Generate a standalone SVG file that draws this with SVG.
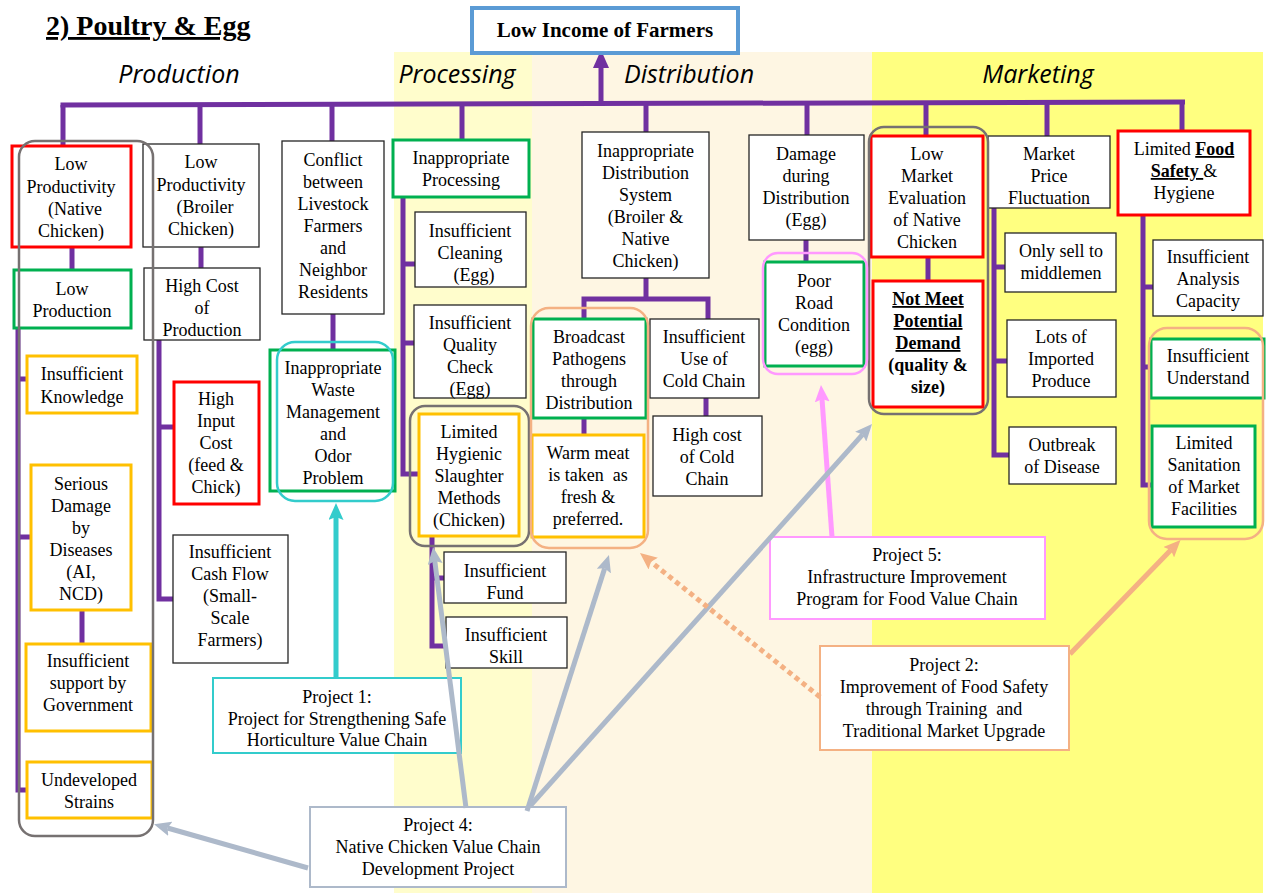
<svg xmlns="http://www.w3.org/2000/svg" width="1266" height="893" viewBox="0 0 1266 893">
  <defs>
    <style>
      .t{font-family:"Liberation Serif",serif;font-size:18px;fill:#000;text-anchor:middle}
      .bd{font-weight:bold}
      .ul{text-decoration:underline}
      .sec{font-family:"Open Sans",sans-serif;font-style:italic;font-size:25px;fill:#000;text-anchor:middle}
      .box{fill:#fff;stroke:#262626;stroke-width:1.3}
      .red{fill:#fff;stroke:#FF0000;stroke-width:3}
      .grn{fill:#fff;stroke:#00B050;stroke-width:3}
      .org{fill:#fff;stroke:#FFC000;stroke-width:3}
      .grp{fill:none;stroke:#767171;stroke-width:2.5}
      .tree{fill:none;stroke:#7030A0;stroke-width:5;stroke-linejoin:miter}
      .arw{fill:none;stroke-width:5}
    </style>
    <marker id="ah-purple" markerUnits="userSpaceOnUse" markerWidth="18" markerHeight="16" refX="2" refY="8" orient="auto">
      <path d="M0,0 L18,8 L0,16 z" fill="#7030A0"/>
    </marker>
    <marker id="ah-slate" markerUnits="userSpaceOnUse" markerWidth="17" markerHeight="15" refX="3" refY="7.5" orient="auto">
      <path d="M0,0 L17,7.5 L0,15 L3,7.5 z" fill="#ADB9CA"/>
    </marker>
    <marker id="ah-cyan" markerUnits="userSpaceOnUse" markerWidth="17" markerHeight="15" refX="3" refY="7.5" orient="auto">
      <path d="M0,0 L17,7.5 L0,15 L3,7.5 z" fill="#33CCCC"/>
    </marker>
    <marker id="ah-pink" markerUnits="userSpaceOnUse" markerWidth="17" markerHeight="15" refX="3" refY="7.5" orient="auto">
      <path d="M0,0 L17,7.5 L0,15 L3,7.5 z" fill="#FF99FF"/>
    </marker>
    <marker id="ah-peach" markerUnits="userSpaceOnUse" markerWidth="17" markerHeight="15" refX="3" refY="7.5" orient="auto">
      <path d="M0,0 L17,7.5 L0,15 L3,7.5 z" fill="#F4B183"/>
    </marker>
  </defs>

  <!-- stage bands -->
  <rect x="0" y="0" width="1266" height="893" fill="#fff"/>
  <rect x="394" y="52" width="138" height="841" fill="#FFFDCC"/>
  <rect x="532" y="52" width="340" height="841" fill="#FEF6E3"/>
  <rect x="872" y="52" width="391" height="841" fill="#FFFF80"/>

  <!-- headings -->
  <text x="46" y="35" font-family="Liberation Serif, serif" font-size="28" font-weight="bold" text-decoration="underline">2) Poultry &amp; Egg</text>
  <text class="sec" x="179" y="83">Production</text>
  <text class="sec" x="457" y="83">Processing</text>
  <text class="sec" x="689" y="83">Distribution</text>
  <text class="sec" x="1038" y="83">Marketing</text>

  <!-- problem tree links -->
  <g id="tree-links">
    <path class="tree" d="M60.5,105 L1185,102"/>
    <path class="tree" d="M601,103 V66" marker-end="url(#ah-purple)"/>
    <path class="tree" d="M63,105 V147 M200,104 V144 M332,104 V141 M462,104 V140 M646,103 V132 M807,103 V135 M926,103 V135 M1047,102 V136 M1182,102 V131"/>
    <!-- production -->
    <path class="tree" d="M72,247 V270 M18,329 V790 H27 M18,379 H27 M18,537 H31 M82,610 V644"/>
    <path class="tree" d="M201,247 V268 M159,340 V599 H173 M159,427 H174"/>
    <path class="tree" d="M333,314 V350"/>
    <!-- processing -->
    <path class="tree" d="M403,197 V474 H419 M403,264 H415 M403,343 H414"/>
    <path class="tree" d="M432,536 V646 H446 M432,578 H444"/>
    <!-- distribution -->
    <path class="tree" d="M646,278 V299 M584,319 V299 H708 V320 M584,418 V435 M706,398 V416 M806,240 V262"/>
    <!-- marketing -->
    <path class="tree" d="M928,257 V281 M994,208 V455 H1009 M994,267 H1005 M994,361 H1007"/>
    <path class="tree" d="M1143,215 V485 H1152 M1143,287 H1153 M1143,367 H1151"/>
  </g>

  <!-- top problem -->
  <g id="n-income">
    <rect x="472" y="8" width="266" height="45" fill="#fff" stroke="#5B9BD5" stroke-width="4"/>
    <text class="t bd" x="605" y="37" style="font-size:21px">Low Income of Farmers</text>
  </g>

  <!-- production -->
  <g id="n-native">
    <rect class="red" x="12" y="146" width="119" height="101"/>
    <text class="t"><tspan x="71" y="170">Low</tspan><tspan x="71" y="192.5">Productivity</tspan><tspan x="75" y="215">(Native</tspan><tspan x="71" y="237">Chicken)</tspan></text>
  </g>
  <g id="n-lowprod">
    <rect class="grn" x="14" y="270" width="117" height="58"/>
    <text class="t"><tspan x="72" y="295">Low</tspan><tspan x="72" y="317">Production</tspan></text>
  </g>
  <g id="n-knowledge">
    <rect class="org" x="27" y="356" width="110" height="57"/>
    <text class="t"><tspan x="82" y="380">Insufficient</tspan><tspan x="82" y="403">Knowledge</tspan></text>
  </g>
  <g id="n-disease">
    <rect class="org" x="31" y="465" width="100" height="145"/>
    <text class="t"><tspan x="81" y="490">Serious</tspan><tspan x="81" y="512">Damage</tspan><tspan x="81" y="534">by</tspan><tspan x="81" y="556">Diseases</tspan><tspan x="81" y="578">(AI,</tspan><tspan x="81" y="600">NCD)</tspan></text>
  </g>
  <g id="n-govt">
    <rect class="org" x="26" y="644" width="125" height="87"/>
    <text class="t"><tspan x="88" y="667">Insufficient</tspan><tspan x="88" y="689">support by</tspan><tspan x="88" y="711">Government</tspan></text>
  </g>
  <g id="n-strains">
    <rect class="org" x="27" y="762" width="125" height="56"/>
    <text class="t"><tspan x="89" y="786">Undeveloped</tspan><tspan x="89" y="808">Strains</tspan></text>
  </g>
  <g id="n-broiler">
    <rect class="box" x="143" y="144" width="116" height="103"/>
    <text class="t"><tspan x="201" y="168">Low</tspan><tspan x="201" y="190.5">Productivity</tspan><tspan x="205" y="213">(Broiler</tspan><tspan x="201" y="235">Chicken)</tspan></text>
  </g>
  <g id="n-highcost">
    <rect class="box" x="144" y="268" width="116" height="72"/>
    <text class="t"><tspan x="202" y="292">High Cost</tspan><tspan x="202" y="314">of</tspan><tspan x="202" y="336">Production</tspan></text>
  </g>
  <g id="n-input">
    <rect class="red" x="174" y="382" width="85" height="122"/>
    <text class="t"><tspan x="216" y="405">High</tspan><tspan x="216" y="427">Input</tspan><tspan x="216" y="449">Cost</tspan><tspan x="216" y="471">(feed &amp;</tspan><tspan x="216" y="493">Chick)</tspan></text>
  </g>
  <g id="n-cash">
    <rect class="box" x="173" y="535" width="115" height="128"/>
    <text class="t"><tspan x="230" y="558">Insufficient</tspan><tspan x="230" y="580">Cash Flow</tspan><tspan x="230" y="602">(Small-</tspan><tspan x="230" y="624">Scale</tspan><tspan x="230" y="646">Farmers)</tspan></text>
  </g>
  <g id="n-conflict">
    <rect class="box" x="282" y="141" width="102" height="173"/>
    <text class="t"><tspan x="333" y="166">Conflict</tspan><tspan x="333" y="188">between</tspan><tspan x="333" y="210">Livestock</tspan><tspan x="333" y="232">Farmers</tspan><tspan x="333" y="254">and</tspan><tspan x="333" y="276">Neighbor</tspan><tspan x="333" y="298">Residents</tspan></text>
  </g>
  <g id="n-waste">
    <rect class="grn" x="270" y="350" width="125" height="141"/>
    <text class="t"><tspan x="333" y="374">Inappropriate</tspan><tspan x="333" y="396">Waste</tspan><tspan x="333" y="418">Management</tspan><tspan x="333" y="440">and</tspan><tspan x="333" y="462">Odor</tspan><tspan x="333" y="484">Problem</tspan></text>
  </g>

  <!-- processing -->
  <g id="n-process">
    <rect class="grn" x="393" y="140" width="136" height="57"/>
    <text class="t"><tspan x="461" y="164">Inappropriate</tspan><tspan x="461" y="186">Processing</tspan></text>
  </g>
  <g id="n-cleaning">
    <rect class="box" x="415" y="212" width="111" height="75"/>
    <text class="t"><tspan x="470" y="237">Insufficient</tspan><tspan x="470" y="259">Cleaning</tspan><tspan x="474" y="281">(Egg)</tspan></text>
  </g>
  <g id="n-quality">
    <rect class="box" x="414" y="305" width="112" height="93"/>
    <text class="t"><tspan x="470" y="329">Insufficient</tspan><tspan x="470" y="351">Quality</tspan><tspan x="470" y="373">Check</tspan><tspan x="470" y="395">(Egg)</tspan></text>
  </g>
  <g id="n-slaughter">
    <rect class="org" x="419" y="414" width="100" height="122"/>
    <text class="t"><tspan x="469" y="438">Limited</tspan><tspan x="469" y="460">Hygienic</tspan><tspan x="469" y="482">Slaughter</tspan><tspan x="469" y="504">Methods</tspan><tspan x="469" y="526">(Chicken)</tspan></text>
  </g>
  <g id="n-fund">
    <rect class="box" x="444" y="552" width="122" height="51"/>
    <text class="t"><tspan x="505" y="577">Insufficient</tspan><tspan x="505" y="599">Fund</tspan></text>
  </g>
  <g id="n-skill">
    <rect class="box" x="446" y="617" width="121" height="51"/>
    <text class="t"><tspan x="506" y="641">Insufficient</tspan><tspan x="506" y="663">Skill</tspan></text>
  </g>

  <!-- distribution -->
  <g id="n-distsys">
    <rect class="box" x="582" y="132" width="127" height="146"/>
    <text class="t"><tspan x="645.5" y="157">Inappropriate</tspan><tspan x="645.5" y="179">Distribution</tspan><tspan x="645.5" y="201">System</tspan><tspan x="645.5" y="223">(Broiler &amp;</tspan><tspan x="645.5" y="245">Native</tspan><tspan x="645.5" y="267">Chicken)</tspan></text>
  </g>
  <g id="n-broadcast">
    <rect class="grn" x="533" y="319" width="113" height="99"/>
    <text class="t"><tspan x="589" y="343">Broadcast</tspan><tspan x="589" y="365">Pathogens</tspan><tspan x="589" y="387">through</tspan><tspan x="589" y="409">Distribution</tspan></text>
  </g>
  <g id="n-warm">
    <rect class="org" x="532" y="435" width="112" height="102"/>
    <text class="t" xml:space="preserve"><tspan x="588" y="459">Warm meat</tspan><tspan x="588" y="481">is taken  as</tspan><tspan x="588" y="503">fresh &amp;</tspan><tspan x="588" y="525">preferred.</tspan></text>
  </g>
  <g id="n-coldchain">
    <rect class="box" x="650" y="319" width="109" height="79"/>
    <text class="t"><tspan x="704" y="343">Insufficient</tspan><tspan x="704" y="365">Use of</tspan><tspan x="704" y="387">Cold Chain</tspan></text>
  </g>
  <g id="n-coldcost">
    <rect class="box" x="653" y="416" width="109" height="80"/>
    <text class="t"><tspan x="707" y="441">High cost</tspan><tspan x="707" y="463">of Cold</tspan><tspan x="707" y="485">Chain</tspan></text>
  </g>
  <g id="n-damage">
    <rect class="box" x="749" y="135" width="115" height="105"/>
    <text class="t"><tspan x="806" y="160">Damage</tspan><tspan x="806" y="182">during</tspan><tspan x="806" y="204">Distribution</tspan><tspan x="806" y="226">(Egg)</tspan></text>
  </g>
  <g id="n-road">
    <rect class="grn" x="765" y="262" width="99" height="104"/>
    <text class="t"><tspan x="814" y="287">Poor</tspan><tspan x="814" y="309">Road</tspan><tspan x="814" y="331">Condition</tspan><tspan x="814" y="353">(egg)</tspan></text>
  </g>

  <!-- marketing -->
  <g id="n-evaluation">
    <rect class="red" x="871" y="136" width="112" height="121"/>
    <text class="t"><tspan x="927" y="160">Low</tspan><tspan x="927" y="182">Market</tspan><tspan x="927" y="204">Evaluation</tspan><tspan x="927" y="226">of Native</tspan><tspan x="927" y="248">Chicken</tspan></text>
  </g>
  <g id="n-demand">
    <rect class="red" x="873" y="281" width="110" height="126"/>
    <text class="t bd"><tspan class="ul" x="928" y="305">Not Meet</tspan><tspan class="ul" x="928" y="327">Potential</tspan><tspan class="ul" x="928" y="349">Demand</tspan><tspan x="928" y="371">(quality &amp;</tspan><tspan x="928" y="393">size)</tspan></text>
  </g>
  <g id="n-price">
    <rect class="box" x="988" y="136" width="122" height="72"/>
    <text class="t"><tspan x="1049" y="160">Market</tspan><tspan x="1049" y="182">Price</tspan><tspan x="1049" y="204">Fluctuation</tspan></text>
  </g>
  <g id="n-middlemen">
    <rect class="box" x="1005" y="233" width="111" height="59"/>
    <text class="t"><tspan x="1061" y="257">Only sell to</tspan><tspan x="1061" y="279">middlemen</tspan></text>
  </g>
  <g id="n-imported">
    <rect class="box" x="1007" y="320" width="109" height="77"/>
    <text class="t"><tspan x="1061" y="343">Lots of</tspan><tspan x="1061" y="365">Imported</tspan><tspan x="1061" y="387">Produce</tspan></text>
  </g>
  <g id="n-outbreak">
    <rect class="box" x="1009" y="427" width="107" height="57"/>
    <text class="t"><tspan x="1062" y="451">Outbreak</tspan><tspan x="1062" y="473">of Disease</tspan></text>
  </g>
  <g id="n-foodsafety">
    <rect class="red" x="1118" y="131" width="132" height="84"/>
    <text class="t" xml:space="preserve"><tspan x="1184" y="155">Limited <tspan class="bd ul">Food</tspan></tspan><tspan x="1184" y="177"><tspan class="bd ul">Safety </tspan>&amp;</tspan><tspan x="1184" y="199">Hygiene</tspan></text>
  </g>
  <g id="n-analysis">
    <rect class="box" x="1153" y="240" width="110" height="76"/>
    <text class="t"><tspan x="1208" y="263">Insufficient</tspan><tspan x="1208" y="285">Analysis</tspan><tspan x="1208" y="307">Capacity</tspan></text>
  </g>
  <g id="n-understand">
    <rect class="grn" x="1151" y="339" width="113" height="59"/>
    <text class="t"><tspan x="1208" y="362">Insufficient</tspan><tspan x="1208" y="384">Understand</tspan></text>
  </g>
  <g id="n-sanitation">
    <rect class="grn" x="1152" y="426" width="103" height="101"/>
    <text class="t"><tspan x="1204" y="449">Limited</tspan><tspan x="1204" y="471">Sanitation</tspan><tspan x="1204" y="493">of Market</tspan><tspan x="1204" y="515">Facilities</tspan></text>
  </g>

  <!-- outlines grouping causes addressed by projects -->
  <g id="scopes">
    <rect class="grp" x="19" y="141" width="134" height="695" rx="16"/>
    <rect class="grp" x="410" y="406" width="119" height="140" rx="15"/>
    <rect class="grp" x="869" y="127" width="119" height="287" rx="15"/>
    <rect x="277" y="342" width="116" height="159" rx="18" fill="none" stroke="#33CCCC" stroke-width="2.5"/>
    <rect x="531" y="308" width="117" height="240" rx="18" fill="none" stroke="#F4B183" stroke-width="2.5"/>
    <rect x="1149" y="328" width="114" height="211" rx="18" fill="none" stroke="#F4B183" stroke-width="2.5"/>
    <rect x="763" y="253" width="104" height="121" rx="15" fill="none" stroke="#FF99FF" stroke-width="2.5"/>
  </g>

  <!-- projects -->
  <g id="p-1">
    <rect x="213" y="678" width="248" height="75" fill="#fff" stroke="#33CCCC" stroke-width="2"/>
    <text class="t"><tspan x="337" y="703">Project 1:</tspan><tspan x="337" y="724.5">Project for Strengthening Safe</tspan><tspan x="337" y="746">Horticulture Value Chain</tspan></text>
  </g>
  <g id="p-5">
    <rect x="770" y="537" width="275" height="82" fill="#fff" stroke="#FF99FF" stroke-width="2"/>
    <text class="t"><tspan x="907" y="561">Project 5:</tspan><tspan x="907" y="583">Infrastructure Improvement</tspan><tspan x="907" y="605">Program for Food Value Chain</tspan></text>
  </g>
  <g id="p-2">
    <rect x="820" y="646" width="249" height="104" fill="#fff" stroke="#F4B183" stroke-width="2"/>
    <text class="t" xml:space="preserve"><tspan x="944" y="671">Project 2:</tspan><tspan x="944" y="693">Improvement of Food Safety</tspan><tspan x="944" y="715">through Training  and</tspan><tspan x="944" y="737">Traditional Market Upgrade</tspan></text>
  </g>
  <g id="p-4">
    <rect x="310" y="807" width="256" height="80" fill="#fff" stroke="#ADB9CA" stroke-width="2"/>
    <text class="t"><tspan x="438" y="831">Project 4:</tspan><tspan x="438" y="853">Native Chicken Value Chain</tspan><tspan x="438" y="875">Development Project</tspan></text>
  </g>

  <!-- project arrows -->
  <g id="project-arrows">
    <path class="arw" stroke="#33CCCC" d="M336,679 V517" marker-end="url(#ah-cyan)"/>
    <path class="arw" stroke="#FF99FF" stroke-width="4" d="M832,537 L822,399" marker-end="url(#ah-pink)"/>
    <path class="arw" stroke="#ADB9CA" d="M308,868 L167.5,828" marker-end="url(#ah-slate)"/>
    <path class="arw" stroke="#ADB9CA" d="M466,808 L434.8,561" marker-end="url(#ah-slate)"/>
    <path class="arw" stroke="#ADB9CA" d="M527,811 L604.7,568.3" marker-end="url(#ah-slate)"/>
    <path class="arw" stroke="#ADB9CA" d="M530,806 L862.7,434.4" marker-end="url(#ah-slate)"/>
    <path class="arw" stroke="#F4B183" stroke-dasharray="5 4" d="M820,697 L650.9,561.8" marker-end="url(#ah-peach)"/>
    <path class="arw" stroke="#F4B183" d="M1070,654 L1170.8,550" marker-end="url(#ah-peach)"/>
  </g>
</svg>
